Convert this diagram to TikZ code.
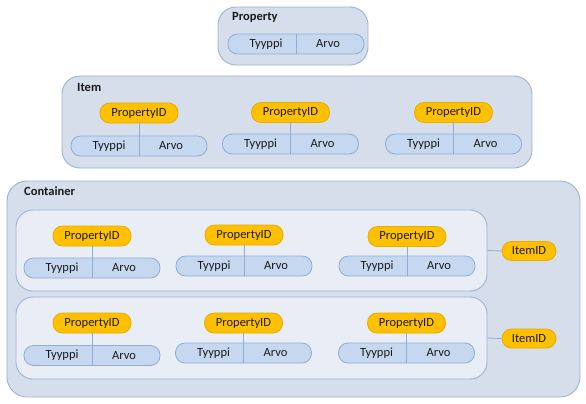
\documentclass[tikz,border=0pt]{standalone}
\usepackage{fontspec}
\setmainfont{Carlito}
\definecolor{outerfill}{HTML}{D5DEEA}
\definecolor{innerfill}{HTML}{E9EEF6}
\definecolor{boxline}{HTML}{9AB3D5}
\definecolor{pillfill}{HTML}{C6D8F0}
\definecolor{pillline}{HTML}{8FACD4}
\definecolor{orangefill}{HTML}{FFC000}
\definecolor{orangeline}{HTML}{E6AD00}
\definecolor{txtcol}{HTML}{1A1A1A}
\tikzset{
  outerbox/.style={draw=boxline, fill=outerfill, line width=0.9bp, rounded corners=18bp, inner sep=0pt},
  innerbox/.style={draw=boxline, fill=innerfill, line width=0.9bp, rounded corners=17bp, inner sep=0pt},
  pillnode/.style={draw=pillline, fill=pillfill, line width=0.8bp, rounded corners=9.5bp, minimum width=136bp, minimum height=20bp, inner sep=0pt},
  pidnode/.style={draw=orangeline, fill=orangefill, line width=0.8bp, rounded corners=9.5bp, minimum width=78bp, minimum height=20bp, inner sep=0pt, font=\fontsize{12.5bp}{14bp}\selectfont, text=txtcol},
  txt/.style={inner sep=0pt, font=\fontsize{12.5bp}{14bp}\selectfont, text=txtcol},
  titletxt/.style={inner sep=0pt, anchor=west, font=\fontsize{12.5bp}{14bp}\selectfont\bfseries, text=txtcol},
  divline/.style={draw=pillline, line width=0.8bp},
}
\newcommand\pgroup[4]{%
  \node[pidnode] (#1id) at (#2,#3) {PropertyID};
  \node[pillnode] (#1pill) at (#2,#4) {};
  \node[txt] (#1t) at ([xshift=-30bp]#1pill.center) {Tyyppi};
  \node[txt] (#1a) at ([xshift=32bp]#1pill.center) {Arvo};
  \draw[divline] (#1id.south) -- (#1id.south |- #1pill.south);
}
\begin{document}
\begin{tikzpicture}[x=1bp, y=-1bp]
\useasboundingbox (0,0) rectangle (586,403);
% Property
\node[outerbox, minimum width=150bp, minimum height=58bp] (property) at (293,36) {};
\node[titletxt] (ptitle) at (232,17) {Property};
\node[pillnode] (ppill) at (296,44) {};
\node[txt] (pt) at ([xshift=-30bp]ppill.center) {Tyyppi};
\node[txt] (pa) at ([xshift=32bp]ppill.center) {Arvo};
\draw[divline] (ppill.north) -- (ppill.south);
% Item
\node[outerbox, minimum width=470bp, minimum height=92bp] (item) at (297,122) {};
\node[titletxt] (ititle) at (77,87) {Item};
\pgroup{ia}{139}{113}{146}
\pgroup{ib}{290.5}{112.5}{144}
\pgroup{ic}{453.5}{112.5}{144}
% Container
\node[outerbox, rounded corners=20bp, minimum width=573bp, minimum height=216bp] (container) at (293.5,289) {};
\node[titletxt] (ctitle) at (24,191) {Container};
\node[innerbox, minimum width=471bp, minimum height=81bp] (inner1) at (251.5,250.5) {};
\node[innerbox, minimum width=471bp, minimum height=82bp] (inner2) at (251.5,338) {};
\pgroup{ca}{92}{236}{268}
\pgroup{cb}{244}{235}{266}
\pgroup{cc}{407}{236.5}{266}
\pgroup{da}{92}{323}{355.5}
\pgroup{db}{243.5}{323}{353}
\pgroup{dc}{406.5}{323}{353}
\node[pidnode, minimum width=54bp, minimum height=19bp] (itemid1) at (529,251) {ItemID};
\node[pidnode, minimum width=54bp, minimum height=19bp] (itemid2) at (529,338.5) {ItemID};
\draw[divline] (inner1.east) -- (itemid1.west);
\draw[divline] (inner2.east) -- (itemid2.west);
\end{tikzpicture}
\end{document}
